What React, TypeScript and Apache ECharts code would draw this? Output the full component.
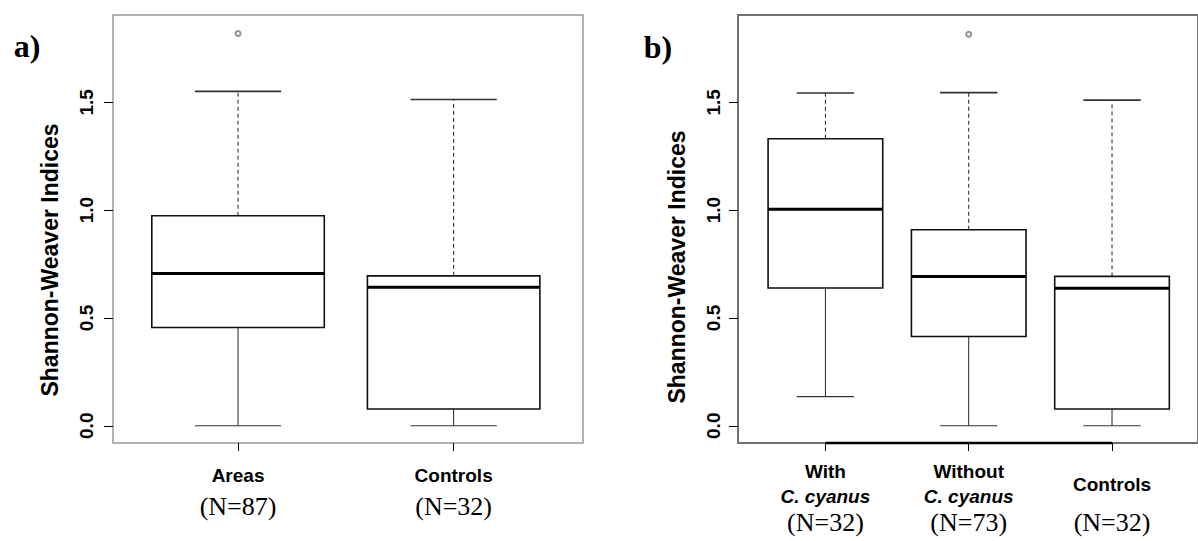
import React, { useEffect, useRef } from "react";
import * as echarts from "echarts";

// ---- data ----
const categoriesA = ["Areas", "Controls"];
const countsA = [87, 32];
// [min, Q1, median, Q3, max]
const statsA = [
  [0, 0.456, 0.706, 0.974, 1.551],
  [0, 0.078, 0.642, 0.695, 1.513],
];
const outliersA = [[1, 1.819]];

const categoriesB = [["With", "C. cyanus"], ["Without", "C. cyanus"], ["Controls"]];
const countsB = [32, 73, 32];
const statsB = [
  [0.135, 0.639, 1.004, 1.331, 1.543],
  [0, 0.414, 0.692, 0.909, 1.545],
  [0, 0.078, 0.638, 0.693, 1.51],
];
const outliersB = [[2, 1.816]];

const yTicks = [0, 0.5, 1.0, 1.5];
const yMin = -0.08;
const yMax = 1.905;

const sans = "Liberation Sans";
const serif = "Liberation Serif";

function boxRender(params: any, api: any) {
  const x = api.value(0);
  const mn = api.value(1);
  const q1 = api.value(2);
  const md = api.value(3);
  const q3 = api.value(4);
  const mx = api.value(5);
  const hw = 0.4;
  const cw = 0.2;
  const p = (a: number, b: number) => api.coord([a, b]);
  const [xl, yq3] = p(x - hw, q3);
  const [xr, yq1] = p(x + hw, q1);
  const [xc, ymx] = p(x, mx);
  const [, ymn] = p(x, mn);
  const [, ymd] = p(x, md);
  const [xcl] = p(x - cw, 0);
  const [xcr] = p(x + cw, 0);
  return {
    type: "group",
    children: [
      { type: "line", shape: { x1: xc, y1: yq3, x2: xc, y2: ymx }, style: { stroke: "#222", lineWidth: 1, lineDash: [4, 3] } },
      { type: "line", shape: { x1: xc, y1: yq1, x2: xc, y2: ymn }, style: { stroke: "#222", lineWidth: 1 } },
      { type: "line", shape: { x1: xcl, y1: ymx, x2: xcr, y2: ymx }, style: { stroke: "#333", lineWidth: 1.6 } },
      { type: "line", shape: { x1: xcl, y1: ymn, x2: xcr, y2: ymn }, style: { stroke: "#333", lineWidth: 1.2 } },
      { type: "rect", shape: { x: xl, y: yq3, width: xr - xl, height: yq1 - yq3 }, style: { fill: "#fff", stroke: "#111", lineWidth: 1.6 } },
      { type: "line", shape: { x1: xl, y1: ymd, x2: xr, y2: ymd }, style: { stroke: "#000", lineWidth: 3 } },
    ],
  };
}

function segRender(params: any, api: any) {
  const [x1, y1] = api.coord([api.value(0), yMin]);
  const [x2] = api.coord([api.value(1), yMin]);
  return { type: "line", shape: { x1, y1, x2, y2: y1 }, style: { stroke: "#000", lineWidth: 2.5 } };
}

const yAxisBase = (gridIndex: number, margin: number) => ({
  gridIndex,
  type: "value",
  min: yMin,
  max: yMax,
  axisLine: { show: false, onZero: false },
  splitLine: { show: false },
  axisTick: { show: true, customValues: yTicks, length: 9, lineStyle: { color: "#000", width: 1 } },
  axisLabel: {
    customValues: yTicks,
    rotate: 90,
    margin,
    formatter: (v: number) => v.toFixed(1),
    fontFamily: sans,
    fontWeight: "bold",
    fontSize: 19,
    color: "#000",
  },
});

export default function App() {
  const ref = useRef<HTMLDivElement>(null);
  useEffect(() => {
    const chart = echarts.init(ref.current!, null, { renderer: "svg" });
    const ticksA = categoriesA.map((_, i) => i + 1);
    const ticksB = categoriesB.map((_, i) => i + 1);
    chart.setOption({
      animation: false,
      backgroundColor: "#fff",
      grid: [
        { left: 113, top: 15, width: 470, height: 428, show: true, borderColor: "#999", borderWidth: 1.5, backgroundColor: "transparent" },
        { left: 738, top: 15, width: 470, height: 428, show: true, borderColor: "#707070", borderWidth: 2, backgroundColor: "transparent" },
      ],
      xAxis: [
        {
          gridIndex: 0,
          type: "value",
          min: 0.42,
          max: 2.6,
          axisLine: { show: true, onZero: false, lineStyle: { color: "rgba(0,0,0,0)" } },
          splitLine: { show: false },
          axisTick: { show: true, customValues: ticksA, length: 8, lineStyle: { color: "#000", width: 1 } },
          axisLabel: {
            customValues: ticksA,
            margin: 17,
            formatter: (v: number) => {
              const i = Math.round(v) - 1;
              return `{b|${categoriesA[i]}}\n{n|(N=${countsA[i]})}`;
            },
            rich: {
              b: { fontFamily: sans, fontWeight: "bold", fontSize: 19, lineHeight: 31, color: "#000" },
              n: { fontFamily: serif, fontSize: 26, lineHeight: 31, color: "#000" },
            },
          },
        },
        {
          gridIndex: 1,
          type: "value",
          min: 0.39,
          max: 3.6,
          axisLine: { show: true, onZero: false, lineStyle: { color: "rgba(0,0,0,0)" } },
          splitLine: { show: false },
          axisTick: { show: true, customValues: ticksB, length: 8, lineStyle: { color: "#000", width: 1 } },
          axisLabel: {
            customValues: ticksB,
            margin: 16,
            formatter: (v: number) => {
              const i = Math.round(v) - 1;
              const c = categoriesB[i];
              if (c.length === 2) return `{b|${c[0]}}\n{i|${c[1]}}\n{n|(N=${countsB[i]})}`;
              return `{c|${c[0]}}\n{n|(N=${countsB[i]})}`;
            },
            rich: {
              b: { fontFamily: sans, fontWeight: "bold", fontSize: 19, lineHeight: 25, color: "#000" },
              i: { fontFamily: sans, fontWeight: "bold", fontStyle: "italic", fontSize: 19, lineHeight: 25, color: "#000" },
              c: { fontFamily: sans, fontWeight: "bold", fontSize: 19, lineHeight: 50, color: "#000" },
              n: { fontFamily: serif, fontSize: 26, lineHeight: 26, color: "#000" },
            },
          },
        },
      ],
      yAxis: [yAxisBase(0, 17), yAxisBase(1, 15)],
      series: [
        {
          type: "custom",
          xAxisIndex: 0,
          yAxisIndex: 0,
          renderItem: boxRender,
          data: statsA.map((s, i) => [i + 1, ...s]),
          z: 3,
        },
        {
          type: "scatter",
          xAxisIndex: 0,
          yAxisIndex: 0,
          data: outliersA,
          symbol: "emptyCircle",
          symbolSize: 5,
          itemStyle: { color: "#777", borderColor: "#777", borderWidth: 1 },
          z: 4,
        },
        {
          type: "custom",
          xAxisIndex: 1,
          yAxisIndex: 1,
          renderItem: boxRender,
          data: statsB.map((s, i) => [i + 1, ...s]),
          z: 3,
        },
        {
          type: "scatter",
          xAxisIndex: 1,
          yAxisIndex: 1,
          data: outliersB,
          symbol: "emptyCircle",
          symbolSize: 5,
          itemStyle: { color: "#777", borderColor: "#777", borderWidth: 1 },
          z: 4,
        },
        {
          type: "custom",
          xAxisIndex: 1,
          yAxisIndex: 1,
          renderItem: segRender,
          data: [[1, categoriesB.length]],
          clip: false,
          z: 5,
        },
      ],
      graphic: [
        {
          type: "text",
          x: 50,
          y: 260,
          rotation: Math.PI / 2,
          style: { text: "Shannon-Weaver Indices", fontFamily: sans, fontWeight: "bold", fontSize: 23, fill: "#000", align: "center", verticalAlign: "middle" },
        },
        {
          type: "text",
          x: 677,
          y: 267,
          rotation: Math.PI / 2,
          style: { text: "Shannon-Weaver Indices", fontFamily: sans, fontWeight: "bold", fontSize: 23, fill: "#000", align: "center", verticalAlign: "middle" },
        },
        {
          type: "text",
          x: 27,
          y: 46,
          style: { text: "a)", fontFamily: serif, fontWeight: "bold", fontSize: 32, fill: "#000", align: "center", verticalAlign: "middle" },
        },
        {
          type: "text",
          x: 658,
          y: 47,
          style: { text: "b)", fontFamily: serif, fontWeight: "bold", fontSize: 32, fill: "#000", align: "center", verticalAlign: "middle" },
        },
      ],
    });
    return () => chart.dispose();
  }, []);
  return <div ref={ref} style={{ position: "fixed", left: 0, top: 0, width: 1198, height: 541 }} />;
}
